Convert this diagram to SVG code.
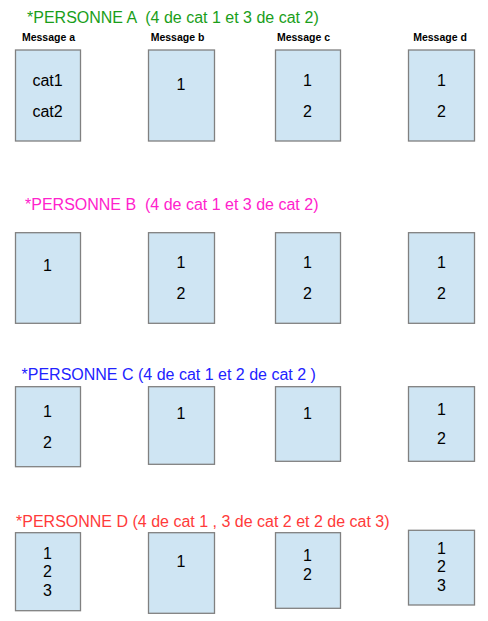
<svg xmlns="http://www.w3.org/2000/svg" width="488" height="621" viewBox="0 0 488 621">
<style>
.box{fill:#cfe5f3;stroke:#808080;stroke-width:1.3}
.t{font-family:"Liberation Sans",Arial,sans-serif;font-size:16px;fill:#000;text-anchor:middle}
.h{font-family:"Liberation Sans",Arial,sans-serif;font-size:16px}
.m{font-family:"Liberation Sans",Arial,sans-serif;font-size:10.5px;font-weight:bold;fill:#000;text-anchor:middle}
</style>
<rect width="488" height="621" fill="#fff"/>
<g id="titles">
<text class="h" x="27" y="23" fill="#1a9e1a" xml:space="preserve">*PERSONNE A  (4 de cat 1 et 3 de cat 2)</text>
<text class="h" x="25" y="210" fill="#ff22cc" xml:space="preserve">*PERSONNE B  (4 de cat 1 et 3 de cat 2)</text>
<text class="h" x="21.5" y="380" fill="#2222ff" xml:space="preserve">*PERSONNE C (4 de cat 1 et 2 de cat 2 )</text>
<text class="h" x="16" y="527" fill="#ff3a3a" xml:space="preserve">*PERSONNE D (4 de cat 1 , 3 de cat 2 et 2 de cat 3)</text>
</g>
<g id="headers">
<text class="m" x="48.5" y="40.7">Message a</text>
<text class="m" x="177.5" y="40.7">Message b</text>
<text class="m" x="303.5" y="40.7">Message c</text>
<text class="m" x="440" y="40.7">Message d</text>
</g>
<g id="A-a"><rect class="box" x="15.5" y="50" width="65" height="91"/><text class="t" x="47.5" y="86">cat1</text><text class="t" x="47.5" y="117">cat2</text></g>
<g id="A-b"><rect class="box" x="148.5" y="50" width="66" height="91"/><text class="t" x="181" y="90">1</text></g>
<g id="A-c"><rect class="box" x="275.5" y="50" width="65" height="91"/><text class="t" x="307.5" y="86">1</text><text class="t" x="307.5" y="117">2</text></g>
<g id="A-d"><rect class="box" x="408.5" y="50" width="66" height="91"/><text class="t" x="441.5" y="86">1</text><text class="t" x="441.5" y="117">2</text></g>

<g id="B-a"><rect class="box" x="15.5" y="232.7" width="65" height="90.6"/><text class="t" x="47.5" y="271">1</text></g>
<g id="B-b"><rect class="box" x="148.5" y="232.7" width="66" height="90.6"/><text class="t" x="181" y="268.3">1</text><text class="t" x="181" y="299">2</text></g>
<g id="B-c"><rect class="box" x="275.5" y="232.7" width="65" height="90.6"/><text class="t" x="307.5" y="268.3">1</text><text class="t" x="307.5" y="299">2</text></g>
<g id="B-d"><rect class="box" x="408.5" y="232.7" width="66" height="90.6"/><text class="t" x="441.5" y="268.3">1</text><text class="t" x="441.5" y="299">2</text></g>

<g id="C-a"><rect class="box" x="15.5" y="386.7" width="65" height="80"/><text class="t" x="47.5" y="416.7">1</text><text class="t" x="47.5" y="447.7">2</text></g>
<g id="C-b"><rect class="box" x="148.5" y="386.7" width="66" height="77.6"/><text class="t" x="181" y="419">1</text></g>
<g id="C-c"><rect class="box" x="275.5" y="386.7" width="65" height="74.6"/><text class="t" x="307.5" y="419">1</text></g>
<g id="C-d"><rect class="box" x="408.5" y="386.7" width="66" height="74.6"/><text class="t" x="441.5" y="415">1</text><text class="t" x="441.5" y="444.3">2</text></g>

<g id="D-a"><rect class="box" x="15.5" y="532.7" width="65" height="78"/><text class="t" x="47.5" y="559.3">1</text><text class="t" x="47.5" y="577.3">2</text><text class="t" x="47.5" y="595.7">3</text></g>
<g id="D-b"><rect class="box" x="148.5" y="532.7" width="66" height="80.6"/><text class="t" x="181" y="566.7">1</text></g>
<g id="D-c"><rect class="box" x="275.5" y="532.7" width="65" height="75.6"/><text class="t" x="307.5" y="560.7">1</text><text class="t" x="307.5" y="579.7">2</text></g>
<g id="D-d"><rect class="box" x="408.5" y="530.3" width="66" height="74.7"/><text class="t" x="441.5" y="554">1</text><text class="t" x="441.5" y="571.7">2</text><text class="t" x="441.5" y="591">3</text></g>
<g id="connectors"/>
</svg>
